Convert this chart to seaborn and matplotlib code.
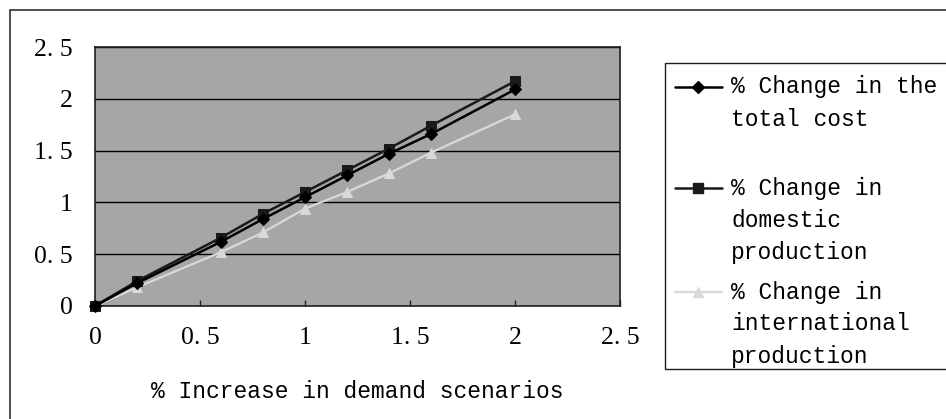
import matplotlib
matplotlib.use("Agg")
import matplotlib.pyplot as plt
from matplotlib.lines import Line2D
from matplotlib.patches import Rectangle
from matplotlib.ticker import FuncFormatter, MultipleLocator
import seaborn as sns
import pandas as pd

# ---- data ----
x_values = [0, 0.2, 0.6, 0.8, 1.0, 1.2, 1.4, 1.6, 2.0]
total_cost = [0, 0.22, 0.62, 0.84, 1.05, 1.26, 1.47, 1.66, 2.09]
domestic = [0, 0.24, 0.66, 0.89, 1.10, 1.31, 1.52, 1.74, 2.17]
international = [0, 0.18, 0.52, 0.71, 0.94, 1.10, 1.28, 1.48, 1.85]
series_names = ["% Change in the total cost",
                "% Change in domestic production",
                "% Change in international production"]
legend_lines = [["% Change in the", "total cost"],
                ["% Change in", "domestic", "production"],
                ["% Change in", "international", "production"]]
x_label = "% Increase in demand scenarios"

sns.set_theme(style="white")
plt.rcParams["font.family"] = ["Liberation Mono", "DejaVu Sans Mono"]

W, H = 946, 419
fig = plt.figure(figsize=(W / 100, H / 100), dpi=100)
ax = fig.add_axes([95 / W, 1 - 306 / H, (620 - 95) / W, (306 - 47) / H])
ax.set_facecolor("#a6a6a6")

df = pd.DataFrame({"x": x_values * 3,
                   "y": total_cost + domestic + international,
                   "series": [series_names[0]] * len(x_values)
                   + [series_names[1]] * len(x_values)
                   + [series_names[2]] * len(x_values)})

styles = [dict(color="black", marker="D", ms=6.5, lw=1.8),
          dict(color="#1a1a1a", marker="s", ms=6.5, lw=1.8),
          dict(color="#d9d9d9", marker="^", ms=7.5, lw=1.6)]

for name, st in zip(series_names[::-1], styles[::-1]):
    sub = df[df["series"] == name]
    sns.lineplot(data=sub, x="x", y="y", ax=ax, color=st["color"], marker=st["marker"],
                 markersize=st["ms"], linewidth=st["lw"], markeredgecolor=st["color"],
                 legend=False, clip_on=False, zorder=3)

ax.set_xlim(0, 2.5)
ax.set_ylim(0, 2.5)
ax.xaxis.set_major_locator(MultipleLocator(0.5))
ax.yaxis.set_major_locator(MultipleLocator(0.5))
fmt = FuncFormatter(lambda v, p: ("%g" % v).replace(".", ". "))
ax.xaxis.set_major_formatter(fmt)
ax.yaxis.set_major_formatter(fmt)
ax.grid(axis="y", color="black", linewidth=1.0)
ax.grid(axis="x", visible=False)
ax.set_axisbelow(True)
for s in ax.spines.values():
    s.set_color("#202020")
    s.set_linewidth(1.2)
ax.tick_params(axis="x", direction="in", length=4, width=1, color="#202020",
               pad=15, labelsize=18.5, labelcolor="black", bottom=True)
ax.tick_params(axis="y", length=0, pad=16, labelsize=18.5, labelcolor="black")
for lab in ax.get_xticklabels() + ax.get_yticklabels():
    lab.set_family(["Liberation Serif", "DejaVu Serif"])
ax.set_xlabel(x_label, fontsize=16.5, color="black")
ax.set_ylabel("")
ax.xaxis.set_label_coords(0.5, -(392 - 306) / (306 - 47))
ax.xaxis.label.set_va("center")

# outer frame
fig.patches.append(Rectangle((10 / W, -0.1), 1.2, 1 - 10 / H + 0.1, transform=fig.transFigure,
                             fill=False, edgecolor="#303030", linewidth=1.2))
# legend box
fig.patches.append(Rectangle((665 / W, 1 - 369 / H), 0.5, (369 - 63) / H, transform=fig.transFigure,
                             fill=False, edgecolor="#202020", linewidth=1.0))
handle_y = [87, 188, 292]
line_step = 32
for st, lines, hy in zip(styles, legend_lines, handle_y):
    fig.lines.append(Line2D([675 / W, 722 / W], [1 - hy / H, 1 - hy / H], transform=fig.transFigure,
                            color=st["color"], linewidth=st["lw"], marker=None))
    fig.lines.append(Line2D([698 / W], [1 - hy / H], transform=fig.transFigure,
                            color=st["color"], marker=st["marker"], markersize=st["ms"],
                            markeredgecolor=st["color"], linestyle="none"))
    for i, t in enumerate(lines):
        fig.text(731 / W, 1 - (hy + i * line_step) / H, t, fontsize=16.5, va="center",
                 ha="left", color="black")

fig.savefig("out.png", dpi=100)
